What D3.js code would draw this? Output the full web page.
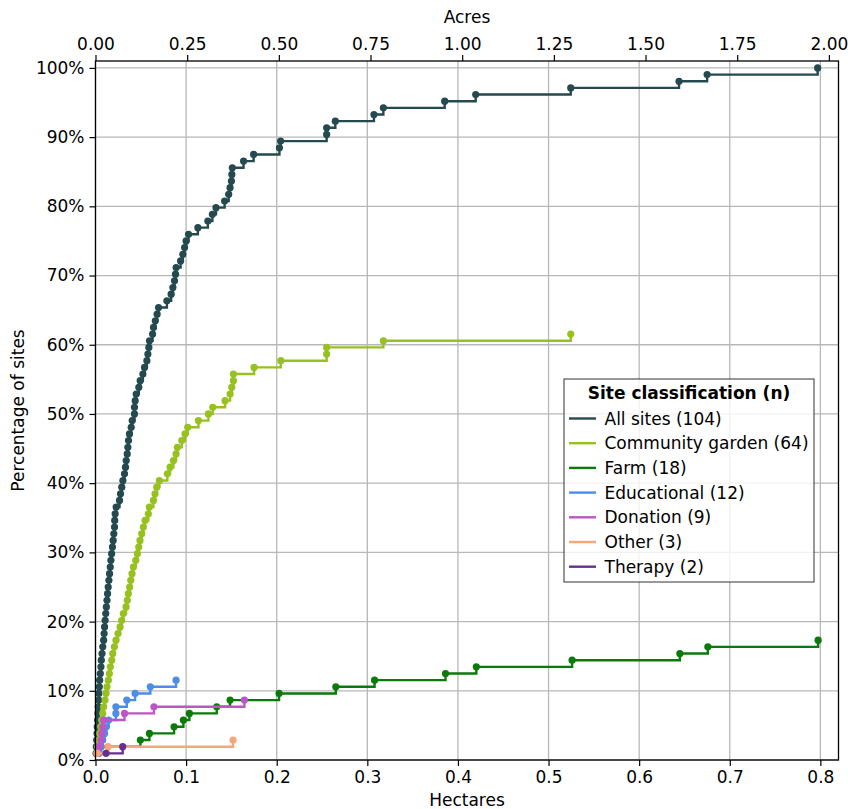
<!DOCTYPE html>
<html>
<head>
<meta charset="utf-8">
<script src="https://cdn.jsdelivr.net/npm/d3@7"></script>
<style>
  html, body { margin: 0; padding: 0; background: #ffffff; }
  svg { display: block; }
  text { font-family: "DejaVu Sans", sans-serif; }
</style>
</head>
<body>
<div id="chart"></div>
<script>
// ---------------- DATA (site sizes in hectares, sorted) ----------------
const totalSites = 104;
const seriesNames = ["All sites (104)", "Community garden (64)", "Farm (18)", "Educational (12)", "Donation (9)", "Other (3)", "Therapy (2)"];
const seriesColors = ["#244a4f", "#97c11f", "#0a7a0a", "#4d8de6", "#bd55c8", "#f7a57b", "#66308f"];

const allSites = [0.0006, 0.0009, 0.0013, 0.0017, 0.0019, 0.0024, 0.0028, 0.003, 0.0035, 0.0037,
  0.0042, 0.0046, 0.0053, 0.006, 0.0064, 0.0072, 0.008, 0.009, 0.0095, 0.010,
  0.0106, 0.0113, 0.012, 0.0127, 0.0133, 0.014, 0.0148, 0.0155, 0.0163, 0.017,
  0.0178, 0.0187, 0.0195, 0.0202, 0.021, 0.0212, 0.0217, 0.0228, 0.0265, 0.0276,
  0.029, 0.0302, 0.032, 0.0331, 0.0339, 0.035, 0.0357, 0.0364, 0.0375, 0.0394,
  0.0405, 0.043, 0.043, 0.0438, 0.0449, 0.0478, 0.0493, 0.0523, 0.0541, 0.0567,
  0.0578, 0.0589, 0.0596, 0.063, 0.064, 0.066, 0.068, 0.0696, 0.0788, 0.0835,
  0.0854, 0.0872, 0.0883, 0.089, 0.0939, 0.0964, 0.0983, 0.100, 0.1027, 0.113,
  0.124, 0.129, 0.133, 0.1425, 0.147, 0.1485, 0.150, 0.1505, 0.151, 0.1634,
  0.1745, 0.203, 0.2043, 0.2551, 0.2551, 0.2647, 0.3073, 0.3177, 0.3854, 0.4196,
  0.5245, 0.644, 0.675, 0.797];

const communityGarden = [0.0013, 0.0024, 0.0035, 0.0046, 0.0057, 0.0068, 0.008, 0.009, 0.0105, 0.0116,
  0.0127, 0.0142, 0.0153, 0.0164, 0.0179, 0.019, 0.0208, 0.0226, 0.0248, 0.0271,
  0.0289, 0.0307, 0.0337, 0.0351, 0.0362, 0.0377, 0.0389, 0.0403, 0.0418, 0.0444,
  0.0462, 0.0477, 0.0491, 0.051, 0.0528, 0.0547, 0.0583, 0.0594, 0.0639, 0.0657,
  0.0676, 0.0705, 0.0793, 0.0823, 0.086, 0.0889, 0.0904, 0.0952, 0.0988, 0.1018,
  0.1136, 0.1246, 0.1294, 0.143, 0.1485, 0.1504, 0.1522, 0.1522, 0.175, 0.2045,
  0.2551, 0.2551, 0.3177, 0.5245];

const farm = [0.003, 0.006, 0.0495, 0.0595, 0.0867, 0.097, 0.1036, 0.1338, 0.1485, 0.2026,
  0.2652, 0.308, 0.3863, 0.4203, 0.526, 0.6449, 0.6758, 0.7975];

const educational = [0.004, 0.006, 0.008, 0.010, 0.012, 0.0145, 0.0225, 0.0225, 0.0345, 0.0437, 0.0605, 0.0889];

const donation = [0.002, 0.004, 0.006, 0.007, 0.008, 0.009, 0.032, 0.0645, 0.1643];

const other = [0.002, 0.0138, 0.1518];

const therapy = [0.0116, 0.030];

const hectareTicks = [0, 0.1, 0.2, 0.3, 0.4, 0.5, 0.6, 0.7, 0.8];
const acreTicks = [0, 0.25, 0.5, 0.75, 1.0, 1.25, 1.5, 1.75, 2.0];
const percentTicks = [0, 0.1, 0.2, 0.3, 0.4, 0.5, 0.6, 0.7, 0.8, 0.9, 1.0];
const HA_PER_ACRE = 0.404686;

const seriesData = [allSites, communityGarden, farm, educational, donation, other, therapy];

// ---------------- LAYOUT ----------------
const W = 848, H = 809;
const m = { left: 95.5, right: 9.5, top: 61, bottom: 49 };
const iw = W - m.left - m.right, ih = H - m.top - m.bottom;
const FONT = 17;

const svg = d3.select("#chart").append("svg").attr("width", W).attr("height", H);

const xMax = 0.82;
const x = d3.scaleLinear().domain([0, xMax]).range([m.left, m.left + iw]);
const xAcres = d3.scaleLinear().domain([0, xMax / HA_PER_ACRE]).range([m.left, m.left + iw]);
const y = d3.scaleLinear().domain([0, 1.01]).range([m.top + ih, m.top]);

// Grid
const grid = svg.append("g").attr("stroke", "#b8b8b8").attr("stroke-width", 1.3);
grid.selectAll("line.gx").data(hectareTicks).join("line")
  .attr("x1", d => x(d)).attr("x2", d => x(d))
  .attr("y1", m.top).attr("y2", m.top + ih);
grid.selectAll("line.gy").data(percentTicks).join("line")
  .attr("x1", m.left).attr("x2", m.left + iw)
  .attr("y1", d => y(d)).attr("y2", d => y(d));

// Series
const lineGen = d3.line().x(d => x(d[0])).y(d => y(d[1])).curve(d3.curveStepAfter);
const plot = svg.append("g");
seriesData.forEach((vals, si) => {
  const pts = vals.map((v, i) => [v, (i + 1) / totalSites]);
  const g = plot.append("g");
  g.append("path").datum(pts)
    .attr("d", lineGen).attr("fill", "none")
    .attr("stroke", seriesColors[si]).attr("stroke-width", 2.4)
    .attr("stroke-linejoin", "miter");
  g.selectAll("circle").data(pts).join("circle")
    .attr("cx", d => x(d[0])).attr("cy", d => y(d[1]))
    .attr("r", 3.6).attr("fill", seriesColors[si]);
});

// Axes
function styleAxis(g) {
  g.selectAll("text").attr("font-size", FONT).attr("fill", "#000").attr("font-family", "DejaVu Sans");
  g.selectAll("line").attr("stroke", "#000").attr("stroke-width", 1.2);
  g.select(".domain").remove();
}
svg.append("g").attr("transform", `translate(0,${m.top + ih})`)
  .call(d3.axisBottom(x).tickValues(hectareTicks).tickFormat(d3.format(".1f")).tickSize(6).tickPadding(5))
  .call(styleAxis);
svg.append("g").attr("transform", `translate(0,${m.top})`)
  .call(d3.axisTop(xAcres).tickValues(acreTicks).tickFormat(d3.format(".2f")).tickSize(6).tickPadding(5))
  .call(styleAxis);
svg.append("g").attr("transform", `translate(${m.left},0)`)
  .call(d3.axisLeft(y).tickValues(percentTicks).tickFormat(d3.format(".0%")).tickSize(6).tickPadding(5))
  .call(styleAxis);

// Frame
svg.append("rect").attr("x", m.left).attr("y", m.top).attr("width", iw).attr("height", ih)
  .attr("fill", "none").attr("stroke", "#000").attr("stroke-width", 1.3);

// Axis labels
svg.append("text").attr("x", m.left + iw / 2).attr("y", 806).attr("text-anchor", "middle")
  .attr("font-size", FONT).text("Hectares");
svg.append("text").attr("x", m.left + iw / 2).attr("y", 23).attr("text-anchor", "middle")
  .attr("font-size", FONT).text("Acres");
svg.append("text").attr("transform", `translate(24,${m.top + ih / 2}) rotate(-90)`)
  .attr("text-anchor", "middle").attr("font-size", FONT).text("Percentage of sites");

// Legend
const lg = svg.append("g").attr("transform", "translate(564,379)");
lg.append("rect").attr("width", 250).attr("height", 203)
  .attr("fill", "#fff").attr("fill-opacity", 0.8)
  .attr("stroke", "#333").attr("stroke-width", 1);
lg.append("text").attr("x", 125).attr("y", 20).attr("text-anchor", "middle")
  .attr("font-size", FONT).attr("font-weight", "bold").text("Site classification (n)");
seriesNames.forEach((name, i) => {
  const cy = 39.5 + i * 24.7;
  lg.append("line").attr("x1", 5).attr("x2", 32).attr("y1", cy).attr("y2", cy)
    .attr("stroke", seriesColors[i]).attr("stroke-width", 2.4);
  lg.append("text").attr("x", 40.5).attr("y", cy + 6).attr("font-size", FONT).text(name);
});
</script>
</body>
</html>
